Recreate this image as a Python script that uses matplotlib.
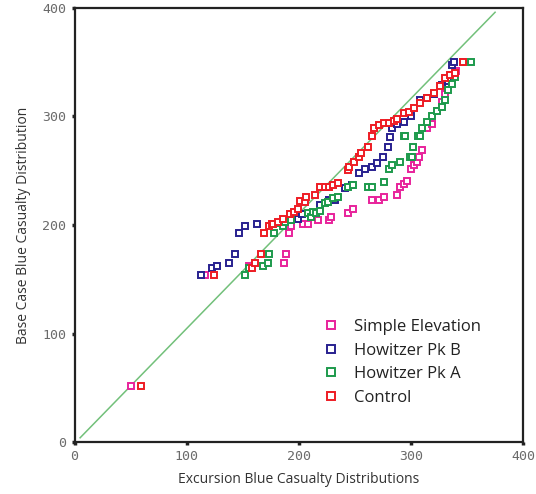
import matplotlib
matplotlib.use("Agg")
import matplotlib.pyplot as plt

# quantile pairs (excursion, base case)
simple_x = [50.8, 116.4, 155.3, 187, 188.3, 191.2, 193.2, 203.9, 207.8, 217, 227.2, 229,
            243.6, 248, 265.6, 271.6, 275.9, 287.8, 290.5, 293.4, 296.3, 299.6, 302.5,
            305.5, 307, 309.9, 314.3, 318.7, 323.1, 327.4, 330.3, 333.3, 336.2, 340.5, 346]
simple_y = [51.6, 154, 162, 165, 173, 193, 199, 200.6, 200.6, 204.6, 205, 207.6,
            211, 215, 223, 223, 226, 227.5, 235, 238, 241, 252, 255,
            258.4, 263, 269, 289, 293.5, 304.6, 313.6, 321, 330, 336, 342, 350]

pkb_x = [112.5, 122.8, 127.1, 137.5, 143.4, 146.3, 152.2, 163, 199, 202.9, 215.6, 218.5,
         227.2, 232.1, 240.8, 247.5, 253.4, 259.2, 265.2, 269.6, 275.5, 279.8, 281.3,
         282.7, 287.8, 293.7, 299.6, 308.4, 314.3, 320.2, 327.4, 333.3, 336.2, 338]
pkb_y = [154, 160, 162, 165, 173, 193, 199, 200.6, 205.5, 210, 211, 218,
         223, 223, 234, 237, 247.6, 252, 253.8, 257, 263, 272, 281,
         289, 293.5, 295, 300, 315, 317, 321, 329, 333, 347, 350]

pka_x = [152.3, 155.3, 167.9, 172.8, 173.4, 178.1, 181.5, 186.1, 187.4, 192.9, 207.8,
         211.2, 212.6, 215.6, 218.5, 223, 225.9, 230.1, 234.7, 243.6, 248, 261.3, 265.6,
         275.9, 280.4, 283.4, 290.5, 293.4, 295.1, 299.2, 301.1, 302.1, 306, 308.4,
         309.9, 314.3, 318.7, 323.1, 327.4, 330.3, 333.3, 336.2, 339.1, 353.7]
pka_y = [154, 160, 162, 165, 173, 193, 201.5, 199, 203, 204.6, 211,
         207.6, 212, 211, 213, 220, 221.6, 224.6, 226, 235, 236.7, 235, 235,
         240, 252, 255, 258.4, 282, 282, 263, 263, 272, 282, 282,
         289, 295, 300, 304.6, 309, 315, 324, 330, 336, 350]

ctrl_x = [59.7, 124.1, 158.2, 161.1, 166, 168.9, 173.4, 175.7, 177.2, 181.5, 186.1, 192,
          196.1, 199, 201, 205.2, 206.8, 214.1, 218.5, 223, 227.2, 230.1, 234.7, 243.6,
          244.7, 249.5, 253.9, 255.4, 261.3, 265.6, 267.1, 271.6, 275.9, 280.4, 284.6,
          287.5, 293.4, 298.2, 302.5, 308.4, 314.3, 320.2, 326.1, 330.3, 335, 339.1, 346]
ctrl_y = [52, 154, 160, 164.7, 173, 193, 199, 200.6, 201, 203, 206, 210,
          212, 215, 222, 221.5, 226, 227.5, 234.7, 235, 235, 236.7, 239, 250.7,
          253.8, 258.4, 263, 266, 272, 282, 289, 292, 294, 294, 296,
          298, 303, 304.5, 307.5, 312, 317, 321.4, 327.6, 335, 338, 340, 350]

ref_x = [5, 375]
ref_y = [4, 396]

ticks = [0, 100, 200, 300, 400]

fig = plt.figure(figsize=(5.36, 4.94), dpi=100)
ax = fig.add_axes([0.139, 0.105, 0.837, 0.879])

ax.plot(ref_x, ref_y, color='#72c07a', lw=1.1, zorder=1)

series = [
    (simple_x, simple_y, '#e8239b', 'Simple Elevation'),
    (pkb_x, pkb_y, '#28208f', 'Howitzer Pk B'),
    (pka_x, pka_y, '#1d9a4c', 'Howitzer Pk A'),
    (ctrl_x, ctrl_y, '#ee1c24', 'Control'),
]
for xs, ys, col, lab in series:
    ax.plot(xs, ys, 's', ms=4.2, mfc='white', mec=col, mew=1.4, ls='none',
            label=lab, zorder=2)

ax.set_xlim(0, 400)
ax.set_ylim(0, 400)
ax.set_xticks(ticks)
ax.set_yticks(ticks)
for lbl in ax.get_xticklabels() + ax.get_yticklabels():
    lbl.set_family('DejaVu Sans Mono')
ax.tick_params(length=2, width=2.5, color='#222', labelsize=9.5,
               labelcolor='#6a6a6a', pad=4)
for s in ax.spines.values():
    s.set_linewidth(1.6)
    s.set_color('#222')

ax.set_xlabel('Excursion Blue Casualty Distributions', family='Open Sans',
              fontsize=10, color='#333', labelpad=6)
ax.set_ylabel('Base Case Blue Casualty Distribution', family='Open Sans',
              fontsize=10, color='#333', labelpad=8)

leg = ax.legend(loc='upper left', bbox_to_anchor=(0.52, 0.318), frameon=False,
                markerscale=1.35, handlelength=1.0, handletextpad=0.9,
                labelspacing=0.45, prop={'family': 'Open Sans', 'size': 12})
for t in leg.get_texts():
    t.set_color('#222')

fig.savefig('out.png', dpi=100)
